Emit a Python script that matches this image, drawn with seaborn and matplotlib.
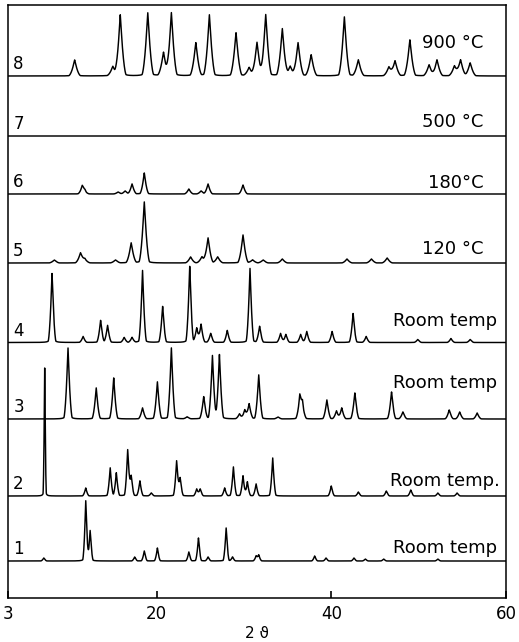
import numpy as np
import pandas as pd
import matplotlib
matplotlib.use("Agg")
import matplotlib.pyplot as plt
import seaborn as sns

# ---- data: peak positions (2theta) and heights ----
pos1 = [7.1, 11.9, 12.4, 17.5, 18.6, 20.1, 23.7, 24.8, 25.9, 27.97, 28.7, 31.4, 31.7, 38.1, 39.4, 42.6, 43.9, 46.0, 52.2]
h1   = [3, 60, 30, 4, 10, 13, 9, 23, 4, 33, 4, 5, 6, 5, 3, 3, 2, 2, 2]

pos2 = [7.2, 11.9, 14.7, 15.4, 16.7, 17.1, 18.1, 19.4, 22.3, 22.7, 24.6, 25.0, 27.8, 28.8, 29.9, 30.4, 31.4, 33.3, 40.0, 43.1, 46.3, 49.1, 52.2, 54.4]
h2   = [128, 8, 28, 23, 46, 20, 15, 3, 35, 18, 7, 7, 8, 29, 20, 14, 12, 38, 10, 4, 5, 6, 3, 3]

pos3 = [9.87, 13.1, 15.1, 18.4, 20.1, 21.7, 23.5, 25.4, 26.4, 27.2, 29.5, 30.1, 30.6, 31.7, 33.9, 36.4, 36.7, 39.5, 40.6, 41.2, 42.7, 46.9, 48.2, 53.5, 54.7, 56.7]
h3   = [71, 31, 41, 11, 37, 71, 2, 22, 63, 64, 5, 9, 15, 44, 2, 22, 15, 19, 8, 11, 26, 27, 7, 9, 7, 6]

pos4 = [8.04, 11.6, 13.6, 14.4, 16.3, 17.2, 18.4, 20.7, 23.8, 24.6, 25.1, 26.2, 28.1, 30.7, 31.8, 34.2, 34.8, 36.5, 37.2, 40.1, 42.5, 44.0, 49.9, 53.7, 55.9]
h4   = [69, 6, 22, 17, 5, 5, 72, 36, 76, 14, 18, 9, 12, 74, 16, 9, 8, 8, 11, 11, 29, 6, 3, 4, 3]

pos5 = [8.3, 11.3, 11.8, 15.3, 17.1, 18.6, 23.9, 25.2, 25.9, 27.0, 29.9, 31.0, 32.2, 34.4, 41.8, 44.6, 46.4]
h5   = [3, 10, 4, 3, 20, 61, 6, 6, 25, 6, 28, 3, 3, 4, 4, 4, 5]

pos6 = [11.5, 11.8, 15.6, 16.4, 17.2, 18.6, 23.7, 25.1, 25.9, 29.9]
h6   = [8, 3, 2, 3, 10, 21, 5, 3, 10, 9]

pos7 = []
h7   = []

pos8 = [10.63, 15.0, 15.85, 19.0, 20.8, 21.7, 24.5, 26.05, 29.1, 30.6, 31.5, 32.5, 34.4, 35.3, 36.2, 37.7, 41.5, 43.1, 46.6, 47.3, 49.0, 51.2, 52.1, 54.1, 54.8, 55.9]
h8   = [16, 9, 61, 63, 23, 63, 33, 61, 43, 8, 33, 61, 47, 9, 33, 21, 59, 16, 9, 15, 36, 11, 16, 10, 16, 13]

pattern_ids = ["1", "2", "3", "4", "5", "6", "7", "8"]
conditions = ["Room temp", "Room temp.", "Room temp", "Room temp", "120 °C", "180°C", "500 °C", "900 °C"]
xticks = [3, 20, 40, 60]

# ---- layout (not data) ----
offsets = [37, 102, 179, 255.5, 335, 404, 462, 522]
widths = [0.22, 0.24, 0.3, 0.28, 0.38, 0.32, 0.3, 0.42]
label_dy = [4, 6, 27, 12, 5, 2, 5, 24]
label_x = [59.0, 59.3, 59.0, 59.0, 57.4, 57.4, 57.4, 57.4]

peaks = [(pos1, h1), (pos2, h2), (pos3, h3), (pos4, h4), (pos5, h5), (pos6, h6), (pos7, h7), (pos8, h8)]

x = np.arange(3.0, 60.0001, 0.01)


def profile(xs, positions, heights, w):
    y = np.zeros_like(xs)
    for p, h in zip(positions, heights):
        ww = w * (0.5 if h > 100 else 1.0)
        d = np.abs(xs - p) / ww
        tri = np.clip(1 - d / 1.6, 0, None) ** 1.6
        l = 1.0 / (1.0 + 4 * d ** 2)
        y += h * (0.8 * tri + 0.2 * l)
    return y


frames = []
for i, (pp, hh) in enumerate(peaks):
    frames.append(pd.DataFrame({"two_theta": x,
                                "signal": offsets[i] + profile(x, pp, hh, widths[i]),
                                "pattern": pattern_ids[i]}))
df = pd.concat(frames, ignore_index=True)

sns.set_style("white")
plt.rcParams["font.family"] = ["DejaVu Sans"]
plt.rcParams["text.color"] = "black"
plt.rcParams["xtick.color"] = "black"
plt.rcParams["axes.labelcolor"] = "black"

fig = plt.figure(figsize=(5.19, 6.42), dpi=100)
ax = fig.add_axes([8 / 519, 1 - 598 / 642, (506 - 8) / 519, (598 - 5) / 642])

sns.lineplot(data=df, x="two_theta", y="signal", units="pattern", estimator=None,
             color="black", linewidth=1.05, ax=ax, legend=False, sort=False)

ax.set_xlim(3, 60)
ax.set_ylim(0, 593)
ax.set_yticks([])
ax.set_xticks(xticks)
ax.set_xticklabels([str(t) for t in xticks], fontsize=12)
ax.tick_params(axis="x", direction="in", length=5, width=1.2, pad=5, bottom=True,
               colors="black")
for s in ax.spines.values():
    s.set_color("black")
    s.set_linewidth(1.1)
ax.set_xlabel("2 ϑ", fontsize=11, labelpad=2, color="black")
ax.set_ylabel("")

for i in range(8):
    ax.text(3.6, offsets[i] + 3, pattern_ids[i], fontsize=12, ha="left", va="bottom",
            color="black")
    ax.text(label_x[i], offsets[i] + label_dy[i], conditions[i], fontsize=13,
            ha="right", va="bottom", color="black")

fig.savefig("out.png", dpi=100)
